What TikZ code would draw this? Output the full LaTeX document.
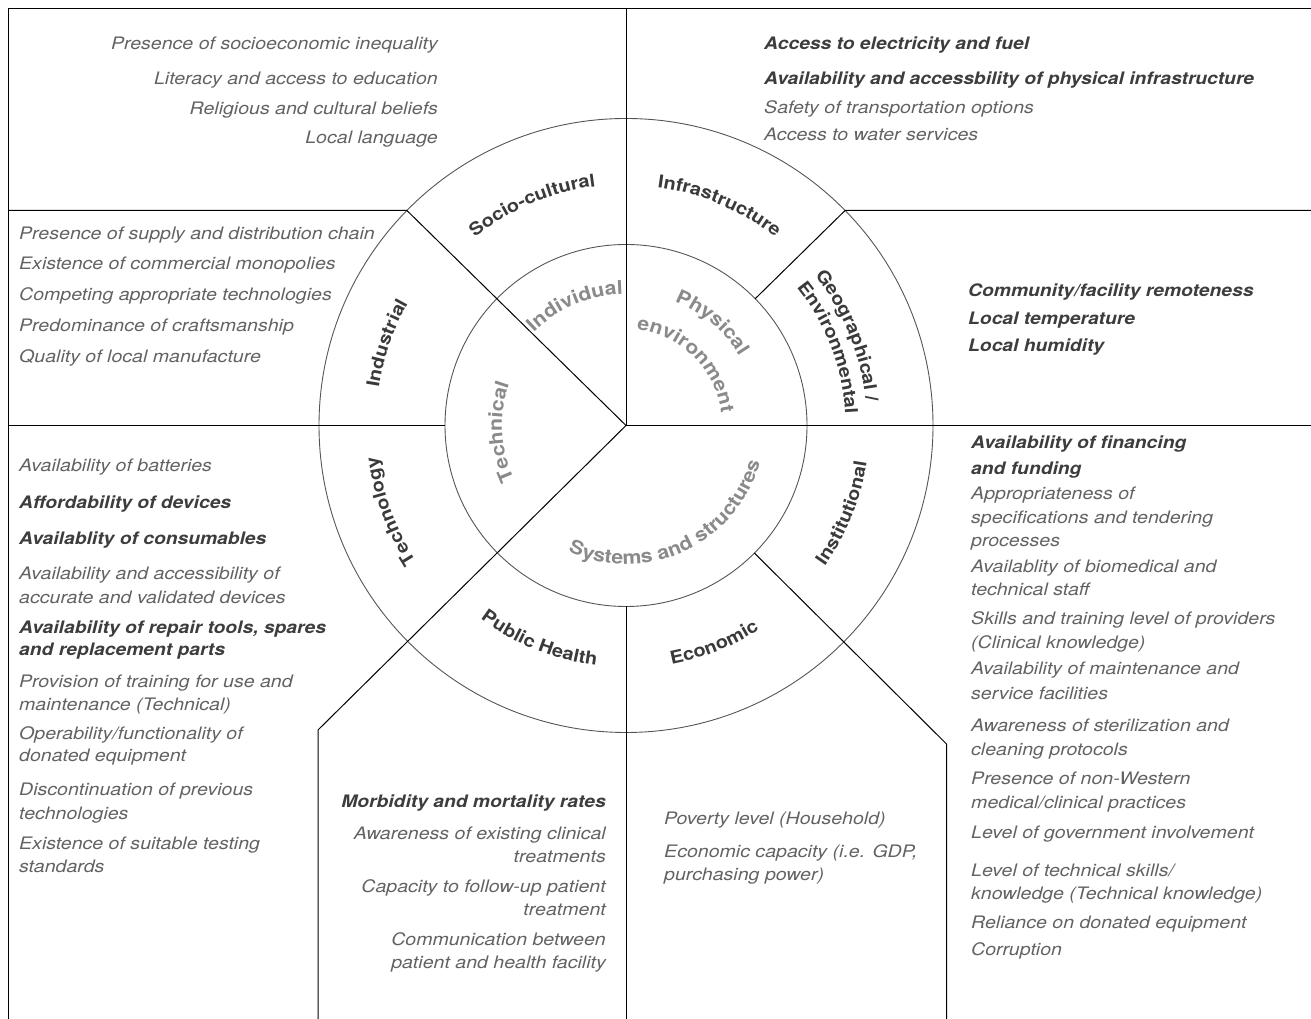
\documentclass[tikz,border=0pt]{standalone}
\usepackage{fontspec}
\newfontfamily\hv[FakeStretch=1.12]{TeX Gyre Heros}
\newfontfamily\hvl[FakeStretch=1.137]{TeX Gyre Heros}
\usetikzlibrary{decorations.text,calc}
\definecolor{listc}{HTML}{626262}
\definecolor{boldc}{HTML}{3D3D3D}
\definecolor{ringc}{HTML}{3A3A3A}
\definecolor{innerc}{HTML}{8A8A8A}
\definecolor{circc}{HTML}{555555}
\newcommand{\listfont}{\hvl\itshape\fontsize{17.2}{20}\selectfont}
\newcommand{\boldlistfont}{\hv\bfseries\itshape\fontsize{17.2}{20}\selectfont}
\newcommand{\ringfont}{\hv\bfseries\fontsize{17.8}{20}\selectfont\color{ringc}}
\newcommand{\innerfont}{\hv\bfseries\fontsize{19}{22}\selectfont\color{innerc}}
\begin{document}
\begin{tikzpicture}[x=1pt,y=1pt,
  lt/.style={anchor=base west,inner sep=0,font=\listfont,text=listc},
  ltb/.style={anchor=base west,inner sep=0,font=\boldlistfont,text=boldc},
  rt/.style={anchor=base east,inner sep=0,font=\listfont,text=listc},
  rtb/.style={anchor=base east,inner sep=0,font=\boldlistfont,text=boldc},
  frame/.style={line width=1pt,draw=black},
  ring/.style={line width=0.9pt,draw=circc},
  ringlabel/.style={decorate,decoration={text along path,text align=center,text={|\ringfont|#1}}},
  innerlabel/.style={decorate,decoration={text along path,text align=center,text={|\innerfont|#1}}}
]
\useasboundingbox (0,0) rectangle (1311,1019);

% key points
\coordinate (C) at (626,593.5);
\coordinate (ul) at (406.9,808.5);
\coordinate (ur) at (845.1,808.5);
\coordinate (ll) at (318,289);
\coordinate (lr) at (946.5,275);
\coordinate (fbl) at (8,0);
\coordinate (ftl) at (8,1010);
\coordinate (ftr) at (1311,1010);
\coordinate (ftm) at (626,1010);
\coordinate (rmid) at (1311,593.5);
\coordinate (lmid) at (8,593.5);
\coordinate (linl) at (445,593.5);
\coordinate (lup) at (8,808.5);
\coordinate (rup) at (1311,808.5);
\coordinate (llb) at (318,0);
\coordinate (lrb) at (946.5,0);
\coordinate (inb) at (626,412.5);
\coordinate (mb) at (626,0);

% circles
\draw[ring] (C) circle[radius=307];
\draw[ring] (C) circle[radius=181];

% straight lines
\draw[frame] (fbl) -- (ftl) -- (ftr);
\draw[frame] (ftm) -- (C) -- (rmid);
\draw[frame] (lup) -- (ul) -- (C) -- (ll) -- (llb);
\draw[frame] (lmid) -- (linl);
\draw[frame] ($(C)!181pt!(ur)$) -- (ur) -- (rup);
\draw[frame] ($(C)!181pt!(lr)$) -- (lr) -- (lrb);
\draw[frame] (inb) -- (mb);

% ring and inner labels
\begin{scope}[shift={(C)}]
\path[ringlabel={Socio-cultural}] (143:241) arc[start angle=143,end angle=83,radius=241];
\path[ringlabel={Infrastructure}] (97:240) arc[start angle=97,end angle=37,radius=240];
\path[ringlabel={Industrial}] (191:250) arc[start angle=191,end angle=131,radius=250];
\path[ringlabel={Technology}] (230:250) arc[start angle=230,end angle=170,radius=250];
\path[ringlabel={Institutional}] (-52:243.5) arc[start angle=-52,end angle=8,radius=243.5];
\path[ringlabel={Geographical /}] (52:241) arc[start angle=52,end angle=-8,radius=241];
\path[ringlabel={Environmental}] (51:219.5) arc[start angle=51,end angle=-9,radius=219.5];
\path[ringlabel={Public Health}] (218:242) arc[start angle=218,end angle=278,radius=242];
\path[ringlabel={Economic}] (262:243.5) arc[start angle=262,end angle=322,radius=243.5];
\path[innerlabel={Individual}] (158:131) arc[start angle=158,end angle=68,radius=131];
\path[innerlabel={Technical}] (228:124) arc[start angle=228,end angle=138,radius=124];
\path[innerlabel={Physical}] (95:133) arc[start angle=95,end angle=5,radius=133];
\path[innerlabel={environment}] (105.5:96) arc[start angle=105.5,end angle=-14.5,radius=96];
\path[innerlabel={Systems and structures}] (215:139) arc[start angle=215,end angle=375,radius=139];
\end{scope}

% Socio-cultural items
\node[rt] (sc1) at (438,969) {Presence of socioeconomic inequality};
\node[rt] (sc2) at (438,934) {Literacy and access to education};
\node[rt] (sc3) at (438,904.5) {Religious and cultural beliefs};
\node[rt] (sc4) at (438,875) {Local language};

% Infrastructure items
\node[ltb] (in1) at (764,969.7) {Access to electricity and fuel};
\node[ltb] (in2) at (764,934) {Availability and accessbility of physical infrastructure};
\node[lt] (in3) at (764,905) {Safety of transportation options};
\node[lt] (in4) at (764,878) {Access to water services};

% Industrial items
\node[lt] (id1) at (19,779.7) {Presence of supply and distribution chain};
\node[lt] (id2) at (19,749.7) {Existence of commercial monopolies};
\node[lt] (id3) at (19,718) {Competing appropriate technologies};
\node[lt] (id4) at (19,687) {Predominance of craftsmanship};
\node[lt] (id5) at (19,656.3) {Quality of local manufacture};

% Geographical items
\node[ltb] (ge1) at (968,722.3) {Community/facility remoteness};
\node[ltb] (ge2) at (968,694.7) {Local temperature};
\node[ltb] (ge3) at (968,667.3) {Local humidity};

% Technology items
\node[lt] (te1) at (19,547) {Availability of batteries};
\node[ltb] (te2) at (19,510.3) {Affordability of devices};
\node[ltb] (te3) at (19,474) {Availablity of consumables};
\node[lt] (te4) at (19,439) {Availability and accessibility of};
\node[lt] (te4b) at (19,415.7) {accurate and validated devices};
\node[ltb] (te5) at (19,385.7) {Availability of repair tools, spares};
\node[ltb] (te5b) at (19,363) {and replacement parts};
\node[lt] (te6) at (19,331.3) {Provision of training for use and};
\node[lt] (te6b) at (19,308) {maintenance (Technical)};
\node[lt] (te7) at (19,279.7) {Operability/functionality of};
\node[lt] (te7b) at (19,257) {donated equipment};
\node[lt] (te8) at (19,223) {Discontinuation of previous};
\node[lt] (te8b) at (19,199.7) {technologies};
\node[lt] (te9) at (19,169) {Existence of suitable testing};
\node[lt] (te9b) at (19,146.3) {standards};

% Institutional items
\node[ltb] (is1) at (971,570.3) {Availability of financing};
\node[ltb] (is1b) at (971,544.7) {and funding};
\node[lt] (is2) at (971,519.7) {Appropriateness of};
\node[lt] (is2b) at (971,495.3) {specifications and tendering};
\node[lt] (is2c) at (971,472) {processes};
\node[lt] (is3) at (971,446.3) {Availablity of biomedical and};
\node[lt] (is3b) at (971,423) {technical staff};
\node[lt] (is4) at (971,394) {Skills and training level of providers};
\node[lt] (is4b) at (971,370.3) {(Clinical knowledge)};
\node[lt] (is5) at (971,344.7) {Availability of maintenance and};
\node[lt] (is5b) at (971,319.7) {service facilities};
\node[lt] (is6) at (971,287) {Awareness of sterilization and};
\node[lt] (is6b) at (971,263) {cleaning protocols};
\node[lt] (is7) at (971,234.7) {Presence of non-Western};
\node[lt] (is7b) at (971,210.7) {medical/clinical practices};
\node[lt] (is8) at (971,180.7) {Level of government involvement};
\node[lt] (is9) at (971,142.3) {Level of technical skills/};
\node[lt] (is9b) at (971,119.7) {knowledge (Technical knowledge)};
\node[lt] (is10) at (971,90.7) {Reliance on donated equipment};
\node[lt] (is11) at (971,63) {Corruption};

% Public Health items
\node[rtb] (ph1) at (606,211.3) {Morbidity and mortality rates};
\node[rt] (ph2) at (606,179.7) {Awareness of existing clinical};
\node[rt] (ph2b) at (606,156.3) {treatments};
\node[rt] (ph3) at (606,126.3) {Capacity to follow-up patient};
\node[rt] (ph3b) at (606,103) {treatment};
\node[rt] (ph4) at (606,73.7) {Communication between};
\node[rt] (ph4b) at (606,50.3) {patient and health facility};

% Economic items
\node[lt] (ec1) at (664,194.7) {Poverty level (Household)};
\node[lt] (ec2) at (664,161.3) {Economic capacity (i.e. GDP,};
\node[lt] (ec2b) at (664,138.7) {purchasing power)};
\end{tikzpicture}
\end{document}
